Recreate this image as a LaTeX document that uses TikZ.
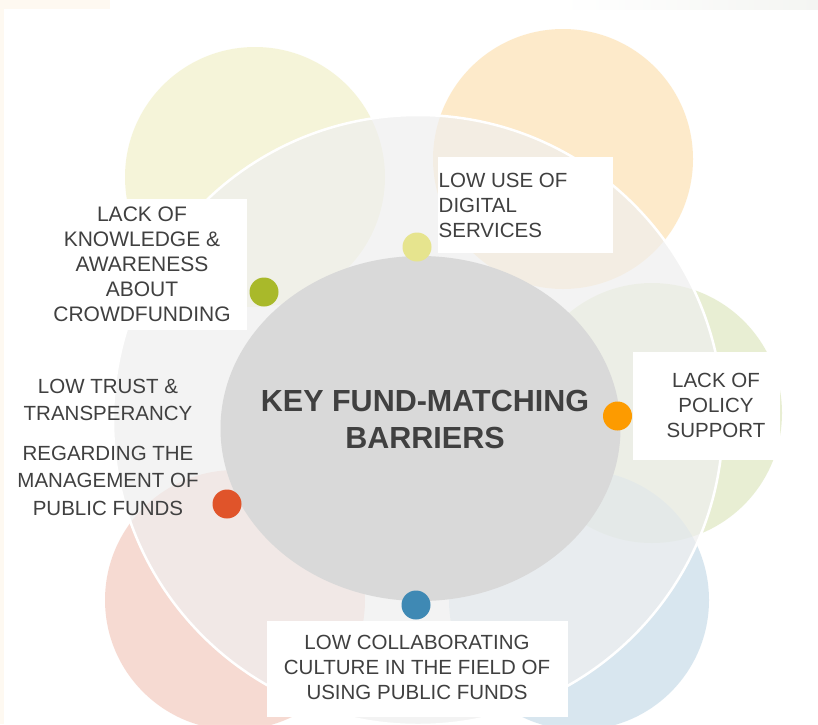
\documentclass[tikz,border=0pt]{standalone}
\usepackage{fontspec}
\setmainfont{Liberation Sans}
\definecolor{txt}{HTML}{404040}
\definecolor{petY}{HTML}{EDEBB5}
\definecolor{petO}{HTML}{FDD797}
\definecolor{petG}{HTML}{D3DFA9}
\definecolor{petB}{HTML}{B3CFE1}
\definecolor{petP}{HTML}{EFB7A7}
\definecolor{ringfill}{HTML}{EFEFEF}
\definecolor{core}{HTML}{D9D9D9}
\definecolor{dotY}{HTML}{E6E48E}
\definecolor{dotG}{HTML}{A9B92A}
\definecolor{dotO}{HTML}{FD9B00}
\definecolor{dotR}{HTML}{E0542A}
\definecolor{dotB}{HTML}{3F89B4}
\definecolor{edgeA}{HTML}{FEF9F1}
\definecolor{edgeB}{HTML}{FEFCF0}
\definecolor{edgeC}{HTML}{F4F5F2}
\begin{document}
\begin{tikzpicture}[x=1pt,y=-1pt,
  petal/.style={fill opacity=0.5},
  dot/.style={circle,minimum size=29pt,inner sep=0pt},
  lbl/.style={inner sep=0pt,align=center,text=txt,font=\fontsize{20.5}{25}\selectfont},
  whitebox/.style={fill=white}]
\useasboundingbox (0,0) rectangle (818,724);
\clip (0,0) rectangle (818,724);
\fill[white] (0,0) rectangle (818,724);
% faint screenshot edges
\fill[edgeA] (0,0) rectangle (110,9);
\fill[edgeA] (0,0) rectangle (4,724);
\shade[left color=white,middle color=edgeB,right color=edgeC] (560,0) rectangle (818,9);
% petals
\fill[petY,petal] (255,177) circle[radius=130];
\fill[petO,petal] (563,159) circle[radius=130];
\fill[petG,petal] (652,413) circle[radius=130];
\fill[petB,petal] (579,600) circle[radius=130];
\fill[petP,petal] (235,600) circle[radius=130];
% outer ring
\fill[ringfill,fill opacity=0.7] (418,420) circle[radius=305];
\draw[white,line width=2.5pt] (418,420) circle[radius=305];
% core
\fill[core] (420.5,428.5) ellipse[x radius=200,y radius=172.5];
% white label boxes
\fill[whitebox] (438,157) rectangle (613,253);
\fill[whitebox] (37,199) rectangle (247,330);
\fill[whitebox] (633,352) rectangle (780,460);
\fill[whitebox] (267,621) rectangle (568,717);
% dots
\node[dot,fill=dotY] (dy) at (417,247) {};
\node[dot,fill=dotG] (dg) at (264,292) {};
\node[dot,fill=dotO] (do) at (617.5,416) {};
\node[dot,fill=dotR] (dr) at (227,504) {};
\node[dot,fill=dotB] (db) at (416,605) {};
% texts
\node[lbl,anchor=west,align=left] (digital) at (438.5,205) {LOW USE OF\\DIGITAL\\SERVICES};
\node[lbl,font=\fontsize{21}{25}\selectfont] (knowledge) at (142,264.5) {LACK OF\\KNOWLEDGE \&\\AWARENESS\\ABOUT\\CROWDFUNDING};
\node[lbl,font=\fontsize{20.5}{27.5}\selectfont] (trust) at (108,400) {LOW TRUST \&\\TRANSPERANCY};
\node[lbl,font=\fontsize{20.5}{27.7}\selectfont] (public) at (108,480.7) {REGARDING THE\\MANAGEMENT OF\\PUBLIC FUNDS};
\node[lbl] (policy) at (716,405) {LACK OF\\POLICY\\SUPPORT};
\node[lbl] (culture) at (417,667) {LOW COLLABORATING\\CULTURE IN THE FIELD OF\\USING PUBLIC FUNDS};
\node[lbl,font=\fontsize{30.5}{37}\selectfont\bfseries] (title) at (425,419.5) {KEY FUND-MATCHING\\BARRIERS};
\end{tikzpicture}
\end{document}
